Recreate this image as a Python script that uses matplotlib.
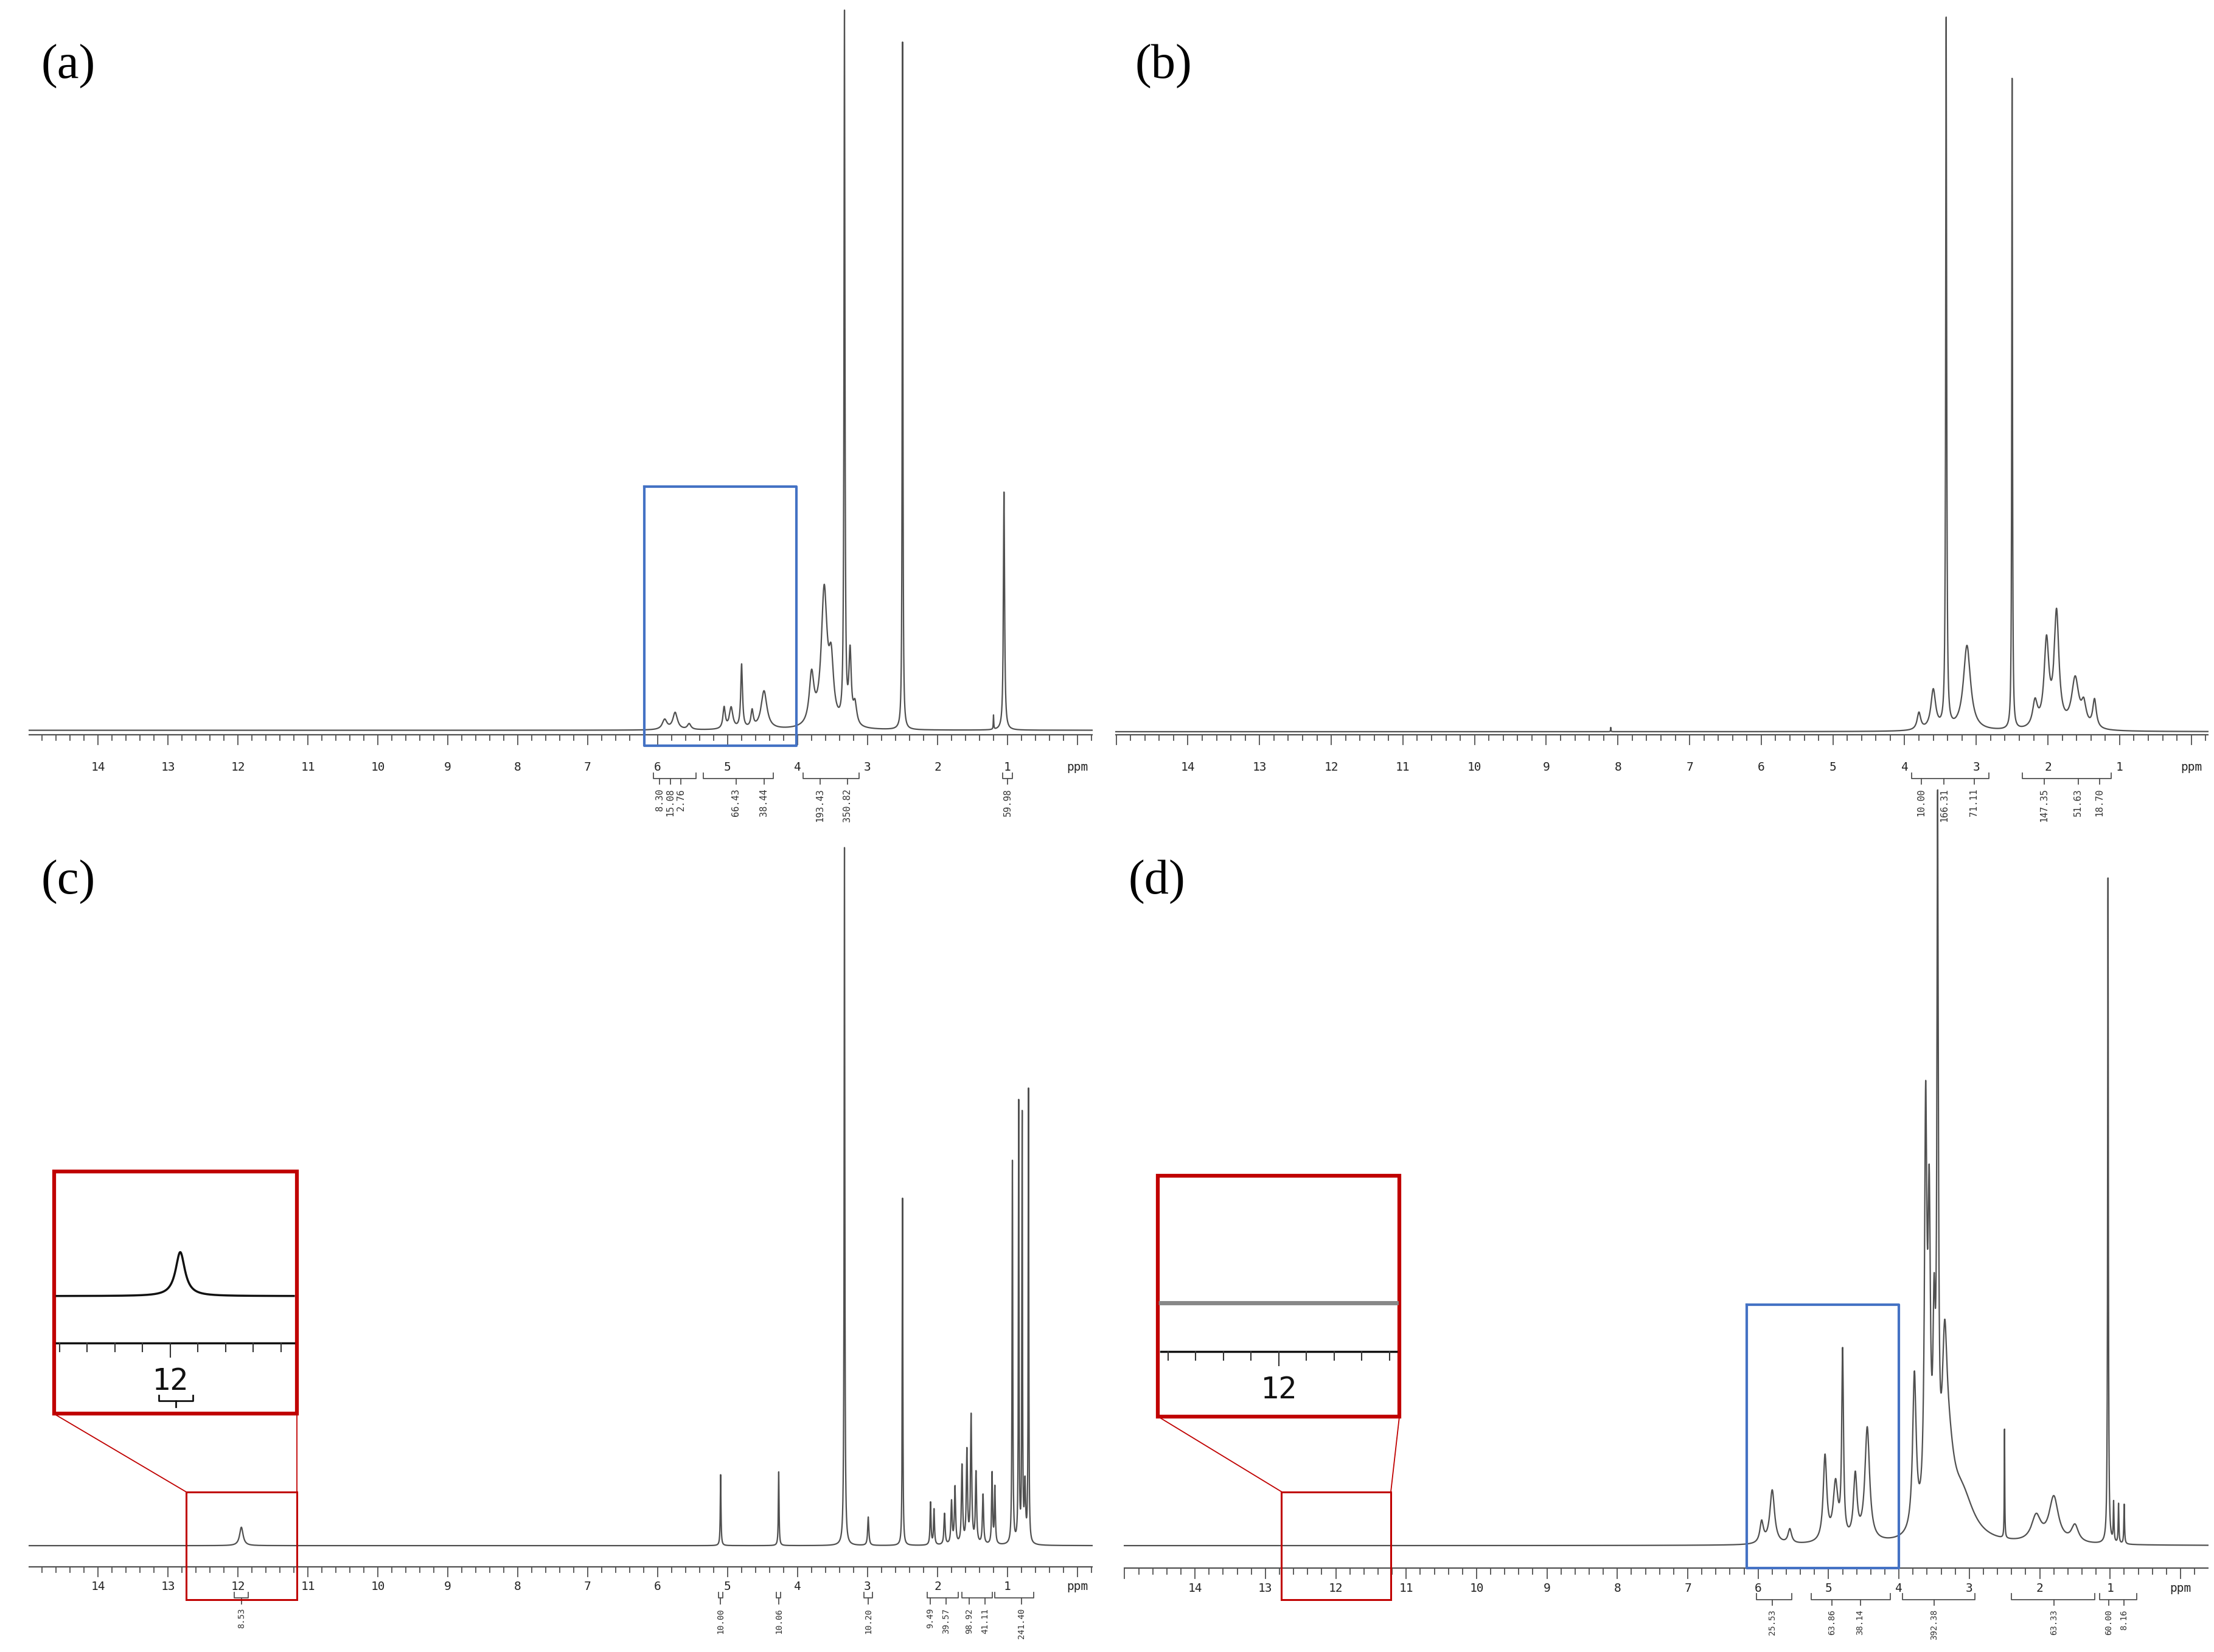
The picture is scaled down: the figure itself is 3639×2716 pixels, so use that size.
import numpy as np
import matplotlib
matplotlib.use("Agg")
import matplotlib.pyplot as plt
from matplotlib.patches import Rectangle

W, H = 1560, 1165  # layout units (scaled reference pixels)
fig = plt.figure(figsize=(36.39, 27.16), dpi=100)
ov = fig.add_axes([0, 0, 1, 1], zorder=5)
ov.set_xlim(0, W); ov.set_ylim(H, 0); ov.axis("off"); ov.patch.set_alpha(0)

# ---------------- data ----------------
# peaks: (ppm, height, half-width)
peaks_a = [(3.33, 500, 0.008), (2.50, 485, 0.006), (1.05, 168, 0.010), (3.62, 95, 0.05), (3.52, 40, 0.04),
           (3.80, 35, 0.04), (3.25, 50, 0.02), (3.18, 15, 0.03), (4.80, 45, 0.015), (4.95, 15, 0.03),
           (5.05, 15, 0.02), (4.65, 12, 0.02), (4.48, 27, 0.05), (5.75, 12, 0.04), (5.90, 7, 0.04),
           (5.55, 4, 0.03), (1.20, 10, 0.004)]
peaks_b = [(3.42, 500, 0.008), (2.50, 459, 0.006), (3.13, 60, 0.06), (3.60, 28, 0.04), (3.80, 12, 0.03),
           (1.88, 80, 0.04), (2.02, 60, 0.04), (2.18, 18, 0.04), (1.62, 35, 0.06), (1.50, 15, 0.04),
           (1.35, 20, 0.03), (8.10, 3, 0.003)]
peaks_c = [(11.95, 13, 0.03), (5.10, 50, 0.006), (4.27, 52, 0.006), (3.33, 493, 0.006), (2.99, 20, 0.01),
           (2.50, 245, 0.005), (2.10, 30, 0.008), (2.05, 25, 0.008), (1.90, 22, 0.01), (1.80, 30, 0.01),
           (1.75, 40, 0.01), (1.65, 55, 0.01), (1.58, 65, 0.01), (1.52, 90, 0.01), (1.45, 50, 0.01),
           (1.35, 35, 0.01), (1.22, 50, 0.008), (1.18, 40, 0.008), (0.93, 270, 0.006), (0.84, 310, 0.005),
           (0.79, 300, 0.005), (0.70, 320, 0.005), (0.75, 40, 0.01)]
peaks_d = [(3.45, 470, 0.012), (3.50, 120, 0.02), (3.62, 280, 0.02), (3.57, 200, 0.02), (3.78, 110, 0.03),
           (3.35, 95, 0.04), (3.30, 50, 0.1), (3.10, 30, 0.2), (2.50, 77, 0.004), (1.03, 470, 0.006),
           (0.95, 28, 0.006), (0.88, 28, 0.006), (0.80, 28, 0.006), (1.80, 32, 0.08), (2.05, 18, 0.08),
           (1.50, 12, 0.06), (4.80, 130, 0.015), (4.90, 40, 0.04), (5.05, 60, 0.03), (4.62, 45, 0.03),
           (4.45, 80, 0.04), (5.80, 38, 0.04), (5.95, 15, 0.03), (5.55, 10, 0.03)]

integ_a = [("8.30", 5.97), ("15.08", 5.82), ("2.76", 5.67), ("66.43", 4.88), ("38.44", 4.48),
           ("193.43", 3.68), ("350.82", 3.29), ("59.98", 1.00)]
brk_a = [(6.06, 5.45), (5.35, 4.35), (3.92, 3.12), (1.07, 0.93)]
integ_b = [("10.00", 3.77), ("166.31", 3.45), ("71.11", 3.03), ("147.35", 2.05), ("51.63", 1.58), ("18.70", 1.28)]
brk_b = [(3.90, 2.82), (2.36, 1.12)]
integ_c = [("8.53", 11.95), ("10.00", 5.10), ("10.06", 4.27), ("10.20", 2.99), ("9.49", 2.10),
           ("39.57", 1.88), ("98.92", 1.55), ("41.11", 1.32), ("241.40", 0.80)]
brk_c = [(12.05, 11.85), (5.13, 5.07), (4.30, 4.24), (3.05, 2.93), (2.15, 1.70), (1.65, 1.22), (1.18, 0.63)]
integ_d = [("25.53", 5.80), ("63.86", 4.95), ("38.14", 4.55), ("392.38", 3.50), ("63.33", 1.80),
           ("60.00", 1.02), ("8.16", 0.80)]
brk_d = [(6.02, 5.52), (5.25, 4.12), (3.95, 2.92), (2.40, 1.22), (1.15, 0.62)]

tick_labels = [str(i) for i in range(14, 0, -1)]

mono = "DejaVu Sans Mono"
col = "#505050"

def panel(x0, x1, p14, pxpp, base, axis_y, peaks, integ, brks, label, lpos, lab_off, brk_off, ifs, box=None):
    p0 = 14 + (p14 - x0) / pxpp
    p1 = 14 - (x1 - p14) / pxpp
    ax = fig.add_axes([x0 / W, 0, (x1 - x0) / W, 1], zorder=2)
    ax.set_xlim(p0, p1); ax.set_ylim(H, 0); ax.axis("off"); ax.patch.set_alpha(0)
    x = np.linspace(p1, p0, 30000)
    y = np.zeros_like(x)
    for p, h, w in peaks:
        y += h / (1 + ((x - p) / w) ** 2)
    ax.plot(x, base - y, color=col, lw=1.6)
    ax.plot([p0, p1], [axis_y, axis_y], color=col, lw=1.6)
    for t in np.arange(15.0, p1, -0.2):
        major = abs(t - round(t)) < 1e-6
        ax.plot([t, t], [axis_y, axis_y + (7 if major else 4)], color=col, lw=1.3)
    for s in tick_labels:
        ax.text(float(s), axis_y + lab_off, s, ha="center", va="center", fontsize=14, family=mono, color="#222")
    ax.text(0.0, axis_y + lab_off, "ppm", ha="center", va="center", fontsize=14, family=mono, color="#222")
    by = axis_y + brk_off
    for a, b in brks:
        ax.plot([a, a, b, b], [by - 4, by, by, by - 4], color=col, lw=1.3)
    for s, p in integ:
        ax.plot([p, p], [by, by + 4], color=col, lw=1.3)
        ax.text(p, by + 7, s, rotation=90, ha="center", va="top", fontsize=ifs, family=mono, color="#333")
    ov.text(lpos[0], lpos[1], label, fontsize=58, family="Liberation Serif", ha="center", va="center")
    if box is not None:
        a, b, yt, yb = box
        ax.plot([a, b, b, a, a], [yt, yt, yb, yb, yt], color="#4472C4", lw=3)
    return ax

panel(20, 770, 69, 49.3, 515, 518, peaks_a, integ_a, brk_a, "(a)", (48, 47), 23, 31, 11, box=(6.19, 4.02, 343, 526))
panel(786, 1556, 837, 50.5, 516, 518, peaks_b, integ_b, brk_b, "(b)", (820, 47), 23, 31, 11)
panel(20, 770, 69, 49.3, 1090, 1105, peaks_c, integ_c, brk_c, "(c)", (48, 622), 14, 22, 10)
panel(792, 1556, 842, 49.6, 1090, 1106, peaks_d, integ_d, brk_d, "(d)", (815, 622), 14, 22, 10,
      box=(6.16, 4.00, 920, 1106))

red = "#C00000"
def inset(big, small, base_y, scale_y, lab_x, peak=None, grey=False):
    bx0, by0, bx1, by1 = big
    sx0, sy0, sx1, sy1 = small
    ov.add_patch(Rectangle((bx0, by0), bx1 - bx0, by1 - by0, fill=False, ec=red, lw=4.5))
    ov.add_patch(Rectangle((sx0, sy0), sx1 - sx0, sy1 - sy0, fill=False, ec=red, lw=2.2))
    ov.plot([bx0, sx0], [by1, sy0], color=red, lw=1.3)
    ov.plot([bx1, sx1], [by1, sy0], color=red, lw=1.3)
    xx = np.linspace(bx0 + 2, bx1 - 2, 2000)
    yy = np.full_like(xx, base_y)
    if peak is not None:
        yy = yy - peak[1] / (1 + ((xx - peak[0]) / peak[2]) ** 2)
    ov.plot(xx, yy, color="#888" if grey else "#111", lw=5 if grey else 2.5)
    ov.plot([bx0 + 2, bx1 - 2], [scale_y, scale_y], color="#111", lw=2.5)
    for tx in np.arange(lab_x - 4 * 19.5, bx1, 19.5):
        if tx < bx0 + 3:
            continue
        ln = 10 if abs(tx - lab_x) < 1 else 6
        ov.plot([tx, tx], [scale_y, scale_y + ln], color="#333", lw=1.5)
    ov.text(lab_x, scale_y + 27, "12", ha="center", va="center", fontsize=36, family=mono, color="#111")

inset((38, 826, 209, 997), (131, 1052, 209, 1128), 914, 947, 120, peak=(127, 31, 4))
ov.plot([112, 112, 136, 136], [984, 988, 988, 984], color="#111", lw=2)
ov.plot([124, 124], [988, 992], color="#111", lw=2)
inset((816, 829, 986, 999), (903, 1052, 980, 1128), 919, 953, 901, grey=True)

fig.savefig("out.png", dpi=100, facecolor="white")
